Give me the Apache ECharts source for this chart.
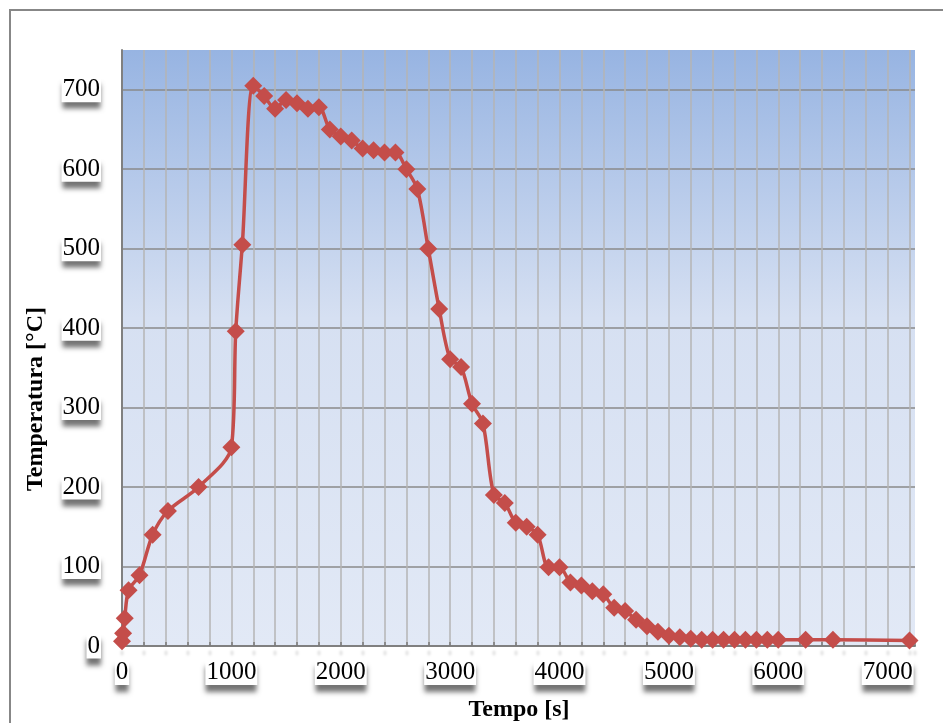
<!DOCTYPE html>
<html>
<head>
<meta charset="utf-8">
<script src="https://cdn.jsdelivr.net/npm/echarts@6/dist/echarts.min.js"></script>
<style>
  html, body { margin: 0; padding: 0; background: #ffffff; }
  #chart { width: 943px; height: 723px; }
</style>
</head>
<body>
<div id="chart"></div>
<script>
// Time of each reading, seconds
const timeSeconds = [
  0, 10, 25, 60, 160, 280, 420, 700, 1000, 1040, 1100,
  1200, 1300, 1400, 1500, 1600, 1700, 1800, 1900, 2000, 2100,
  2200, 2300, 2400, 2500, 2600, 2700, 2800, 2900, 3000, 3100,
  3200, 3300, 3400, 3500, 3600, 3700, 3800, 3900, 4000, 4100,
  4200, 4300, 4400, 4500, 4600, 4700, 4800, 4900, 5000, 5100,
  5200, 5300, 5400, 5500, 5600, 5700, 5800, 5900, 6000,
  6250, 6500, 7200
];

// Measured temperature, °C
const temperatureC = [
  6, 16, 35, 70, 89, 140, 170, 200, 250, 396, 505,
  705, 692, 676, 687, 683, 676, 678, 650, 641, 636,
  626, 624, 621, 621, 600, 575, 500, 424, 361, 351,
  305, 280, 190, 180, 155, 150, 140, 99, 99, 80,
  76, 69, 65, 48, 44, 33, 25, 18, 13, 11,
  9, 8, 8, 8, 8, 8, 8, 8, 8,
  8, 8, 7
];

// Axis ranges and tick steps
const xRange = [0, 7250];
const xLabelStep = 1000;
const xGridStep = 200;
const yRange = [0, 750];
const yStep = 100;

const xTitle = 'Tempo [s]';
const yTitle = 'Temperatura [°C]';

const points = timeSeconds.map((t, i) => [t, temperatureC[i]]);

const serif = '"Liberation Serif", "Times New Roman", serif';
const labelBox = {
  fontFamily: serif,
  fontSize: 25,
  color: '#000000',
  backgroundColor: '#ffffff',
  padding: [0, 1, 0, 1],
  shadowColor: 'rgba(0,0,0,0.55)',
  shadowBlur: 5,
  shadowOffsetY: 7,
  formatter: (v) => String(v)
};

const chart = echarts.init(document.getElementById('chart'), null, { renderer: 'canvas' });

chart.setOption({
  backgroundColor: '#ffffff',
  animation: false,
  graphic: [
    {
      type: 'rect',
      shape: { x: 10, y: 10, width: 1000, height: 1000 },
      style: { fill: 'none', stroke: '#878787', lineWidth: 2 },
      z: 0
    },
    {
      type: 'text',
      x: 519,
      y: 710,
      style: {
        text: xTitle,
        font: 'bold 24px ' + serif,
        fill: '#000000',
        align: 'center',
        verticalAlign: 'middle'
      }
    },
    {
      type: 'text',
      x: 36,
      y: 399,
      rotation: Math.PI / 2,
      style: {
        text: yTitle,
        font: 'bold 24px ' + serif,
        fill: '#000000',
        align: 'center',
        verticalAlign: 'middle'
      }
    }
  ],
  grid: {
    left: 122,
    top: 50,
    right: 28,
    bottom: 77,
    show: true,
    borderWidth: 0,
    backgroundColor: new echarts.graphic.LinearGradient(0, 0, 0, 1, [
      { offset: 0, color: '#97b4e2' },
      { offset: 0.45, color: '#d6e0f2' },
      { offset: 1, color: '#e2e9f6' }
    ])
  },
  xAxis: [
    {
      type: 'value',
      min: xRange[0],
      max: xRange[1],
      interval: xLabelStep,
      axisLine: { show: true, lineStyle: { color: '#808080', width: 2 } },
      axisTick: { show: false },
      splitLine: { show: false },
      axisLabel: Object.assign({ margin: 14, showMaxLabel: false }, labelBox)
    },
    {
      type: 'value',
      position: 'bottom',
      min: xRange[0],
      max: xRange[1],
      interval: xGridStep,
      axisLine: { show: false },
      axisLabel: { show: false },
      axisTick: {
        show: true,
        inside: true,
        length: 4,
        lineStyle: {
          color: '#7a7a7a',
          width: 1.5,
          shadowColor: 'rgba(0,0,0,0.25)',
          shadowBlur: 3,
          shadowOffsetY: 9
        }
      },
      splitLine: {
        show: true,
        showMinLine: false,
        showMaxLine: false,
        lineStyle: { color: '#b4b4b4', width: 1.5 }
      }
    }
  ],
  yAxis: {
    type: 'value',
    min: yRange[0],
    max: yRange[1],
    interval: yStep,
    axisLine: { show: true, lineStyle: { color: '#808080', width: 2 } },
    axisTick: { show: false },
    splitLine: {
      show: true,
      showMinLine: false,
      showMaxLine: false,
      lineStyle: { color: '#8a8a8a', width: 1.5 }
    },
    axisLabel: Object.assign({ margin: 21, showMaxLabel: false }, labelBox)
  },
  series: [
    {
      type: 'line',
      xAxisIndex: 0,
      data: points,
      smooth: 0.3,
      symbol: 'diamond',
      symbolSize: 18,
      lineStyle: { color: '#c44d4a', width: 3.5 },
      itemStyle: { color: '#c44d4a' },
      z: 5
    }
  ]
});
</script>
</body>
</html>
